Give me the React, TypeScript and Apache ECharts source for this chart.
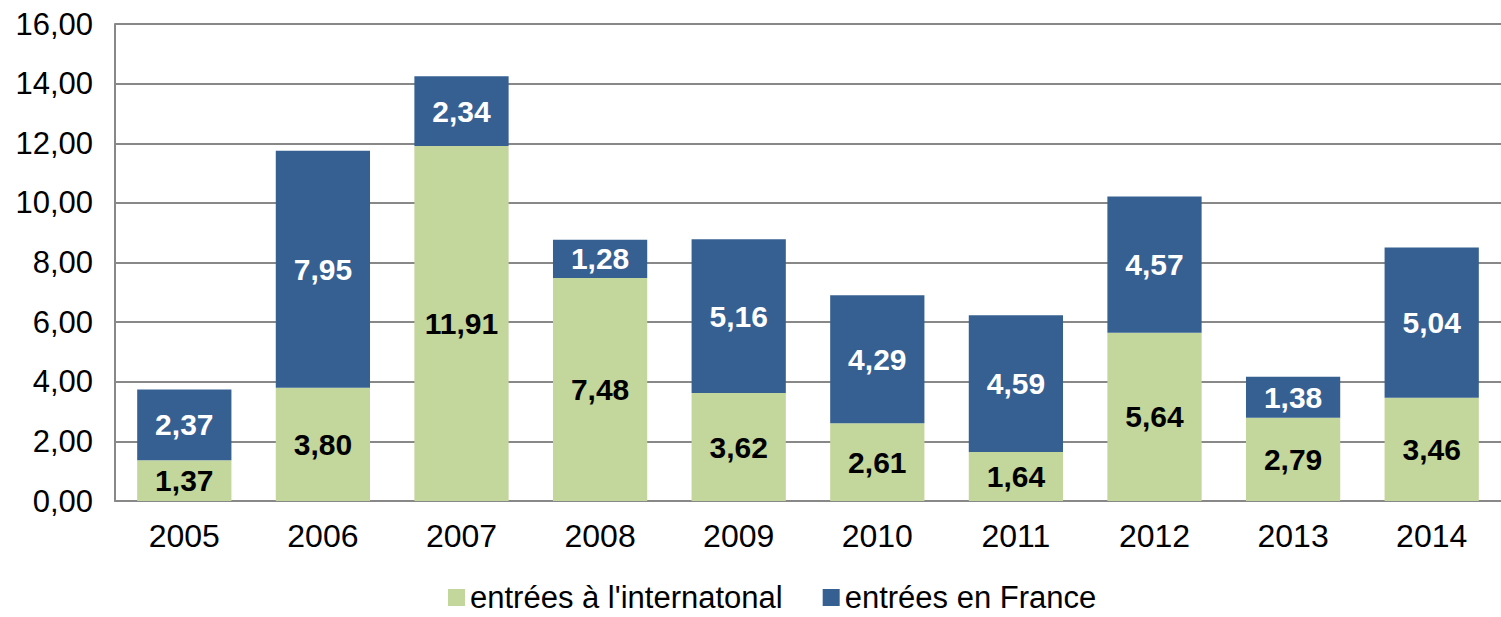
import React, { useEffect, useRef } from "react";
import * as echarts from "echarts";

const categories = ["2005", "2006", "2007", "2008", "2009", "2010", "2011", "2012", "2013", "2014"];
const international = [1.37, 3.8, 11.91, 7.48, 3.62, 2.61, 1.64, 5.64, 2.79, 3.46];
const france = [2.37, 7.95, 2.34, 1.28, 5.16, 4.29, 4.59, 4.57, 1.38, 5.04];
const seriesNames = ["entrées à l'internatonal", "entrées en France"];

const fmt = (v: number) => v.toFixed(2).replace(".", ",");
const FONT = "'Liberation Sans', Arial, sans-serif";

export default function App() {
  const ref = useRef<HTMLDivElement>(null);
  useEffect(() => {
    if (!ref.current) return;
    const chart = echarts.init(ref.current, null, { renderer: "svg" });
    chart.setOption({
      animation: false,
      backgroundColor: "#ffffff",
      textStyle: { fontFamily: FONT },
      grid: { left: 115, right: 0, top: 24, bottom: 116, containLabel: false },
      legend: {
        left: 448,
        top: 582,
        padding: 0,
        itemWidth: 17,
        itemHeight: 17,
        itemGap: 40,
        icon: "rect",
        textStyle: { fontSize: 31, lineHeight: 31, color: "#000", fontFamily: FONT, padding: [0, 0, 0, 0] },
        data: seriesNames,
      },
      xAxis: {
        type: "category",
        data: categories,
        axisLine: { lineStyle: { color: "#888", width: 2 } },
        axisTick: { inside: true, length: 8, alignWithLabel: false, lineStyle: { color: "#888", width: 2 } },
        axisLabel: { fontSize: 32, color: "#000", margin: 19, fontFamily: FONT },
      },
      yAxis: {
        type: "value",
        min: 0,
        max: 16,
        interval: 2,
        axisLine: { show: true, lineStyle: { color: "#888", width: 2 } },
        axisTick: { show: false },
        splitLine: { lineStyle: { color: "#888", width: 2 } },
        axisLabel: { fontSize: 31, color: "#000", margin: 22, fontFamily: FONT, formatter: (v: number) => fmt(v) },
      },
      series: [
        {
          name: seriesNames[0],
          type: "bar",
          stack: "total",
          data: international,
          barCategoryGap: "32%",
          itemStyle: { color: "#C3D69B" },
          label: {
            show: true,
            position: "inside",
            color: "#000",
            fontWeight: "bold",
            fontSize: 30,
            fontFamily: FONT,
            formatter: (p: any) => fmt(p.value),
          },
        },
        {
          name: seriesNames[1],
          type: "bar",
          stack: "total",
          data: france,
          barCategoryGap: "32%",
          itemStyle: { color: "#376092" },
          label: {
            show: true,
            position: "inside",
            color: "#fff",
            fontWeight: "bold",
            fontSize: 30,
            fontFamily: FONT,
            formatter: (p: any) => fmt(p.value),
          },
        },
      ],
    });
    return () => chart.dispose();
  }, []);
  return <div ref={ref} style={{ position: "absolute", left: 0, top: 0, width: 1501, height: 617 }} />;
}
